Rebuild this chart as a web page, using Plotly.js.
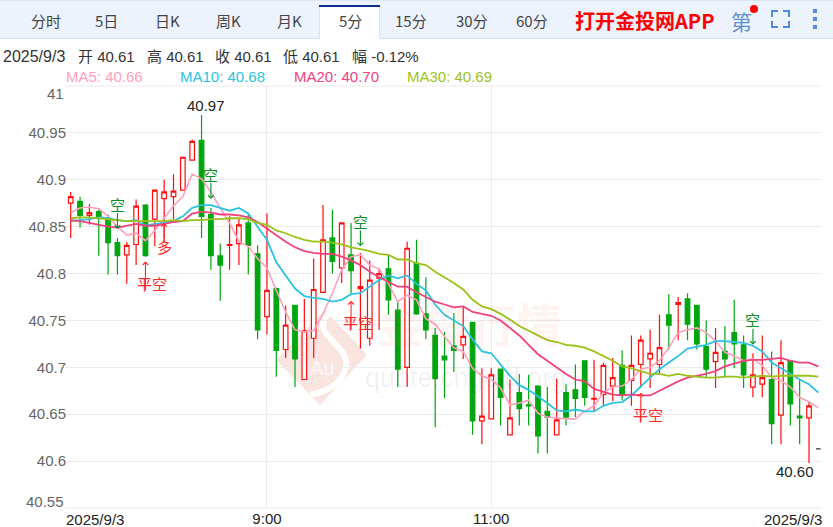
<!DOCTYPE html>
<html>
<head>
<meta charset="utf-8">
<script src="https://cdn.plot.ly/plotly-3.0.1.min.js"></script>
<style>
  html, body { margin: 0; padding: 0; background: #fff; overflow: hidden; }
</style>
</head>
<body>
<div id="chart" style="width:833px;height:527px"></div>
<script>
// Candles (one bar = 5 minutes).
const opens = [40.875,40.877,40.862,40.866,40.859,40.833,40.82,40.831,40.873,40.858,
  40.88,40.882,40.889,40.921,40.942,40.863,40.819,40.83,40.832,40.854,
  40.821,40.754,40.784,40.719,40.766,40.687,40.731,40.78,40.838,40.806,
  40.82,40.784,40.731,40.795,40.805,40.761,40.7,40.811,40.757,40.734,
  40.712,40.723,40.724,40.748,40.643,40.645,40.698,40.628,40.673,40.66,
  40.68,40.653,40.628,40.673,40.676,40.707,40.666,40.671,40.68,40.702,
  40.686,40.703,40.709,40.703,40.756,40.767,40.773,40.766,40.722,40.706,
  40.717,40.737,40.724,40.679,40.682,40.687,40.649,40.707,40.648,40.646];
const highs = [40.887,40.882,40.874,40.87,40.863,40.838,40.834,40.879,40.874,40.889,
  40.9,40.906,40.924,40.943,40.969,40.87,40.832,40.861,40.859,40.863,
  40.83,40.864,40.785,40.766,40.766,40.773,40.816,40.873,40.868,40.854,
  40.854,40.822,40.814,40.805,40.82,40.771,40.834,40.836,40.796,40.742,
  40.738,40.758,40.765,40.748,40.699,40.699,40.698,40.687,40.693,40.692,
  40.68,40.679,40.688,40.682,40.703,40.707,40.708,40.705,40.71,40.718,
  40.734,40.734,40.74,40.756,40.778,40.775,40.779,40.766,40.75,40.742,
  40.744,40.772,40.734,40.715,40.734,40.717,40.729,40.707,40.687,40.664];
const lows = [40.838,40.849,40.852,40.819,40.799,40.799,40.789,40.809,40.818,40.829,
  40.834,40.858,40.889,40.921,40.838,40.804,40.771,40.804,40.809,40.799,
  40.73,40.735,40.69,40.71,40.679,40.687,40.71,40.78,40.8,40.79,
  40.779,40.72,40.723,40.74,40.756,40.679,40.679,40.756,40.73,40.636,
  40.667,40.695,40.709,40.628,40.618,40.645,40.638,40.628,40.638,40.638,
  40.608,40.608,40.628,40.638,40.647,40.659,40.653,40.659,40.664,40.665,
  40.659,40.678,40.678,40.692,40.719,40.729,40.729,40.719,40.689,40.678,
  40.689,40.699,40.678,40.668,40.668,40.618,40.618,40.638,40.618,40.598];
const closes = [40.882,40.862,40.865,40.861,40.833,40.819,40.83,40.872,40.819,40.889,
  40.887,40.888,40.924,40.941,40.861,40.819,40.809,40.831,40.852,40.83,
  40.74,40.782,40.718,40.745,40.709,40.739,40.783,40.836,40.813,40.854,
  40.803,40.786,40.793,40.8,40.772,40.698,40.827,40.757,40.74,40.688,
  40.708,40.718,40.733,40.643,40.648,40.692,40.668,40.646,40.656,40.659,
  40.627,40.647,40.644,40.647,40.667,40.668,40.667,40.702,40.689,40.671,
  40.702,40.729,40.715,40.721,40.745,40.769,40.746,40.725,40.698,40.716,
  40.709,40.725,40.692,40.692,40.689,40.64,40.705,40.661,40.646,40.659];

// The bar still forming at the right edge, flat and drawn dark.
const lastBar = 80;
const lastPrice = 40.613;

// Moving averages.
const ma5 = [40.865,40.87,40.871,40.869,40.861,40.85,40.841,40.843,40.835,40.846,
  40.859,40.872,40.882,40.906,40.901,40.887,40.87,40.854,40.834,40.829,
  40.816,40.806,40.782,40.759,40.74,40.738,40.739,40.757,40.779,40.804,
  40.818,40.82,40.809,40.805,40.789,40.77,40.777,40.772,40.752,40.746,
  40.733,40.721,40.717,40.699,40.691,40.687,40.678,40.66,40.662,40.665,
  40.651,40.647,40.646,40.645,40.645,40.653,40.659,40.673,40.679,40.68,
  40.687,40.698,40.7,40.707,40.721,40.737,40.74,40.742,40.737,40.728,
  40.716,40.712,40.707,40.709,40.702,40.689,40.686,40.679,40.668,40.663,40.657];
const ma10 = [40.856,40.857,40.858,40.86,40.859,40.857,40.856,40.857,40.851,40.853,
  40.854,40.856,40.861,40.87,40.873,40.873,40.87,40.867,40.87,40.864,
  40.85,40.836,40.812,40.798,40.784,40.776,40.774,40.773,40.77,40.772,
  40.778,40.779,40.786,40.793,40.798,40.795,40.798,40.789,40.782,40.767,
  40.756,40.75,40.744,40.73,40.717,40.715,40.703,40.691,40.681,40.676,
  40.669,40.662,40.654,40.653,40.655,40.653,40.653,40.659,40.662,40.663,
  40.67,40.68,40.689,40.698,40.705,40.712,40.72,40.722,40.724,40.728,
  40.728,40.727,40.726,40.723,40.717,40.705,40.699,40.693,40.687,40.682,40.673];
const ma20 = [40.857,40.856,40.854,40.852,40.85,40.849,40.851,40.853,40.851,40.851,
  40.853,40.855,40.856,40.864,40.866,40.865,40.863,40.863,40.862,40.86,
  40.855,40.848,40.841,40.834,40.828,40.824,40.822,40.821,40.821,40.818,
  40.814,40.809,40.802,40.796,40.791,40.786,40.786,40.78,40.775,40.77,
  40.767,40.764,40.765,40.759,40.757,40.755,40.75,40.742,40.734,40.724,
  40.714,40.707,40.7,40.693,40.687,40.685,40.677,40.674,40.671,40.67,
  40.671,40.67,40.67,40.675,40.68,40.685,40.689,40.691,40.693,40.696,
  40.701,40.704,40.707,40.708,40.708,40.709,40.71,40.707,40.705,40.705,40.701];
const ma30 = [40.859,40.86,40.86,40.859,40.858,40.857,40.856,40.856,40.856,40.856,
  40.856,40.857,40.856,40.857,40.857,40.858,40.858,40.859,40.859,40.858,
  40.854,40.852,40.846,40.843,40.839,40.836,40.834,40.834,40.833,40.831,
  40.828,40.826,40.824,40.821,40.82,40.815,40.815,40.811,40.809,40.802,
  40.796,40.79,40.783,40.772,40.765,40.762,40.757,40.751,40.744,40.739,
  40.734,40.729,40.727,40.724,40.723,40.721,40.717,40.712,40.707,40.701,
  40.699,40.696,40.693,40.693,40.691,40.693,40.691,40.69,40.689,40.689,
  40.69,40.69,40.689,40.69,40.691,40.69,40.691,40.691,40.691,40.691,40.69];

// Axis ticks.
const yTickVals = [40.6,40.65,40.7,40.75,40.8,40.85,40.9,40.95];
const yTickText = ['40.6','40.65','40.7','40.75','40.8','40.85','40.9','40.95'];
const xTickVals = [21,45];
const xTickText = ['9:00','11:00'];

// Trade signals: label, bar index, price at the arrow tip.
const signalLabels = ['空','平空','多','空','空','平空','平空','空'];
const signalBars = [5,8,10,15,31,30,61,73];
const signalPrices = [40.8475,40.813,40.854,40.8795,40.829,40.771,40.673,40.724];

// Tabs and header text.
const tabLabels = ['分时','5日','日K','周K','月K','5分','15分','30分','60分'];
const quoteLabels = ['开 40.61','高 40.61','收 40.61','低 40.61','幅 -0.12%'];
const maLabels = ['MA5: 40.66','MA10: 40.68','MA20: 40.70','MA30: 40.69'];

const FONT = '"Liberation Sans", "Noto Sans CJK SC", sans-serif';
const CJK = '"Noto Sans CJK SC", "Liberation Sans", sans-serif';
const RED = '#ff0d0d';
const GREEN = '#00a510';
const MA_COLORS = ['#fda0bd','#2cc3e0','#f0427f','#9bc21a'];

// Plot area in page pixels, the header lives outside of it.
const W = 833, H = 527;
const M = {l: 65, r: 11, t: 86, b: 19};
const px = x => (x - M.l) / (W - M.l - M.r);
const py = y => (H - M.b - y) / (H - M.t - M.b);

const note = (x, y, text, color, size, extra) => Object.assign({
  xref: 'paper', yref: 'paper', x: px(x), y: py(y), text: text, showarrow: false,
  xanchor: 'center', yanchor: 'middle',
  font: {family: FONT, size: size, color: color}
}, extra);

const box = (x0, y0, x1, y1, fill) => ({
  type: 'rect', xref: 'paper', yref: 'paper', layer: 'below',
  x0: px(x0), x1: px(x1), y0: py(y0), y1: py(y1),
  fillcolor: fill, line: {width: 0}
});

const xs = closes.map((c, i) => i);
const maXs = ma5.map((v, i) => i);

const traces = [
  {
    type: 'candlestick', x: xs, open: opens, high: highs, low: lows, close: closes,
    increasing: {line: {color: RED, width: 1.2}, fillcolor: '#ffffff'},
    decreasing: {line: {color: GREEN, width: 1.2}, fillcolor: GREEN},
    hoverinfo: 'skip', showlegend: false
  },
  {
    type: 'candlestick', x: [lastBar], open: [lastPrice], high: [lastPrice], low: [lastPrice], close: [lastPrice],
    increasing: {line: {color: '#333333', width: 1.2}},
    decreasing: {line: {color: '#333333', width: 1.2}},
    hoverinfo: 'skip', showlegend: false
  }
];
[ma5, ma10, ma20, ma30].forEach((values, i) => {
  traces.push({
    type: 'scatter', mode: 'lines', x: maXs, y: values, hoverinfo: 'skip', showlegend: false,
    line: {color: MA_COLORS[i], width: i === 0 ? 1.6 : 1.8}
  });
});

const annotations = [];

// Tab bar
const tabX = [46,106,167,228,289,350,411,472,532];
tabLabels.forEach((t, i) => {
  annotations.push(note(tabX[i], 21, t, '#444', 15, {font: {family: CJK, size: 15, color: '#444'}}));
});
annotations.push(note(645, 21, '打开金投网APP', '#ff0000', 20, {font: {family: CJK, size: 20, color: '#ff0000', weight: 700}}));
annotations.push(note(741, 21, '第', '#5b8fd0', 21, {font: {family: CJK, size: 21, color: '#5b8fd0'}}));

// Quote line
annotations.push(note(1, 57, '2025/9/3', '#333', 16, {xanchor: 'left'}));
const quoteX = [76,145,213,281,350];
quoteLabels.forEach((t, i) => {
  annotations.push(note(quoteX[i], 57, t, '#333', 15, {xanchor: 'left'}));
});

// MA legend
const maX = [64,178,292,405];
maLabels.forEach((t, i) => {
  annotations.push(note(maX[i], 76, t, MA_COLORS[i], 15, {xanchor: 'left'}));
});

// Edge labels are pushed inwards in the original, so they are not regular ticks.
annotations.push(note(66, 93, '41', '#666', 15, {xanchor: 'right'}));
annotations.push(note(66, 501, '40.55', '#666', 15, {xanchor: 'right'}));
annotations.push(note(64, 519, '2025/9/3', '#222', 15, {xanchor: 'left'}));
annotations.push(note(824, 519, '2025/9/3', '#222', 15, {xanchor: 'right'}));

// Highest and lowest price
annotations.push({x: 14, y: highs[14], xref: 'x', yref: 'y', text: highs[14].toFixed(2), showarrow: false,
  yanchor: 'bottom', xshift: 4, yshift: -1, font: {family: FONT, size: 15, color: '#222'}});
annotations.push({x: 79, y: lows[79], xref: 'x', yref: 'y', text: lows[79].toFixed(2), showarrow: false,
  yanchor: 'top', xshift: -14, yshift: 2, font: {family: FONT, size: 15, color: '#222'}});

// Signals: one arrow and one label each
const signalStyle = {
  '空': {color: '#0c8f26', len: -17, text: -25, dx: 0},
  '平空': {color: '#ff2a2a', len: 30, text: 22, dx: 7},
  '多': {color: '#ff2a2a', len: 17, text: 24, dx: 0}
};
signalLabels.forEach((label, i) => {
  const s = signalStyle[label];
  annotations.push({
    x: signalBars[i], y: signalPrices[i], xref: 'x', yref: 'y', text: ' ', showarrow: true,
    ax: 0, ay: s.len, arrowhead: 4, arrowsize: 1, arrowwidth: 1.1, arrowcolor: s.color,
    borderpad: 0, font: {size: 1}
  });
  annotations.push({
    x: signalBars[i], y: signalPrices[i], xref: 'x', yref: 'y', text: label, showarrow: false,
    xshift: s.dx, yshift: -s.text, font: {family: CJK, size: 15, color: s.color}
  });
});

// Watermark
annotations.push(note(470, 322, '金投行情', 'rgba(240,90,60,0.08)', 46, {font: {family: CJK, size: 46, color: 'rgba(240,90,60,0.08)', weight: 700}}));
annotations.push(note(465, 378, 'quote.cngold.org', 'rgba(0,0,0,0.06)', 27));
annotations.push(note(322, 368, 'Au', 'rgba(255,255,255,0.75)', 20));

const shapes = [
  box(0, 0, W, 38, '#ecf3fd'),
  box(0, 0, W, 1, '#dde6f3'),
  box(0, 38, W, 39, '#d9e3f2'),
  box(320, 5, 380, 39, '#ffffff'),
  box(319, 5, 320, 39, '#d9e3f2'),
  box(379, 5, 380, 39, '#d9e3f2'),
  box(319, 5, 380, 7, '#0f2e8c'),
  // logo watermark
  {type: 'path', xref: 'paper', yref: 'paper', layer: 'below', line: {width: 0}, fillcolor: '#f9e4e0',
    path: `M${px(276)},${py(360)} L${px(325)},${py(310)} L${px(367)},${py(355)} L${px(320)},${py(405)} Z`},
  {type: 'path', xref: 'paper', yref: 'paper', layer: 'below', line: {width: 6, color: '#ffffff'},
    path: `M${px(330)},${py(312)} C${px(305)},${py(335)} ${px(355)},${py(345)} ${px(345)},${py(370)} C${px(340)},${py(385)} ${px(325)},${py(392)} ${px(310)},${py(395)}`},
  // notification dot and icons in the tab bar
  {type: 'circle', xref: 'paper', yref: 'paper', x0: px(750), x1: px(758), y0: py(5), y1: py(13), fillcolor: '#ff0000', line: {width: 0}},
  box(771, 10, 778, 12, '#4f8bd6'), box(771, 10, 773, 17, '#4f8bd6'),
  box(783, 10, 790, 12, '#4f8bd6'), box(788, 10, 790, 17, '#4f8bd6'),
  box(771, 26, 778, 28, '#4f8bd6'), box(771, 21, 773, 28, '#4f8bd6'),
  box(783, 26, 790, 28, '#4f8bd6'), box(788, 21, 790, 28, '#4f8bd6'),
  box(813, 9, 817, 13, '#4f8bd6'), box(813, 17, 817, 21, '#4f8bd6'), box(813, 25, 817, 29, '#4f8bd6')
];

const layout = {
  width: W, height: H,
  margin: M,
  paper_bgcolor: '#ffffff',
  plot_bgcolor: '#ffffff',
  showlegend: false,
  font: {family: FONT, size: 15, color: '#333'},
  xaxis: {
    range: [-0.61, 80.39],
    rangeslider: {visible: false},
    tickvals: xTickVals, ticktext: xTickText,
    tickfont: {family: FONT, size: 15, color: '#222'},
    ticks: '', showgrid: true, gridcolor: '#ececec', gridwidth: 1,
    zeroline: false, showline: false
  },
  yaxis: {
    range: [40.55, 41],
    tickvals: yTickVals, ticktext: yTickText,
    tickfont: {family: FONT, size: 15, color: '#666'},
    ticks: '', ticklabelstandoff: -2, showgrid: true, gridcolor: '#ececec', gridwidth: 1,
    zeroline: false, showline: false
  },
  annotations: annotations,
  shapes: shapes.concat([
    // top and bottom edges of the grid
    box(65, 85.5, 822, 86.5, '#ececec'),
    box(65, 507.5, 822, 508.5, '#ececec')
  ])
};

Plotly.newPlot('chart', traces, layout, {displayModeBar: false, staticPlot: true});
</script>
</body>
</html>
